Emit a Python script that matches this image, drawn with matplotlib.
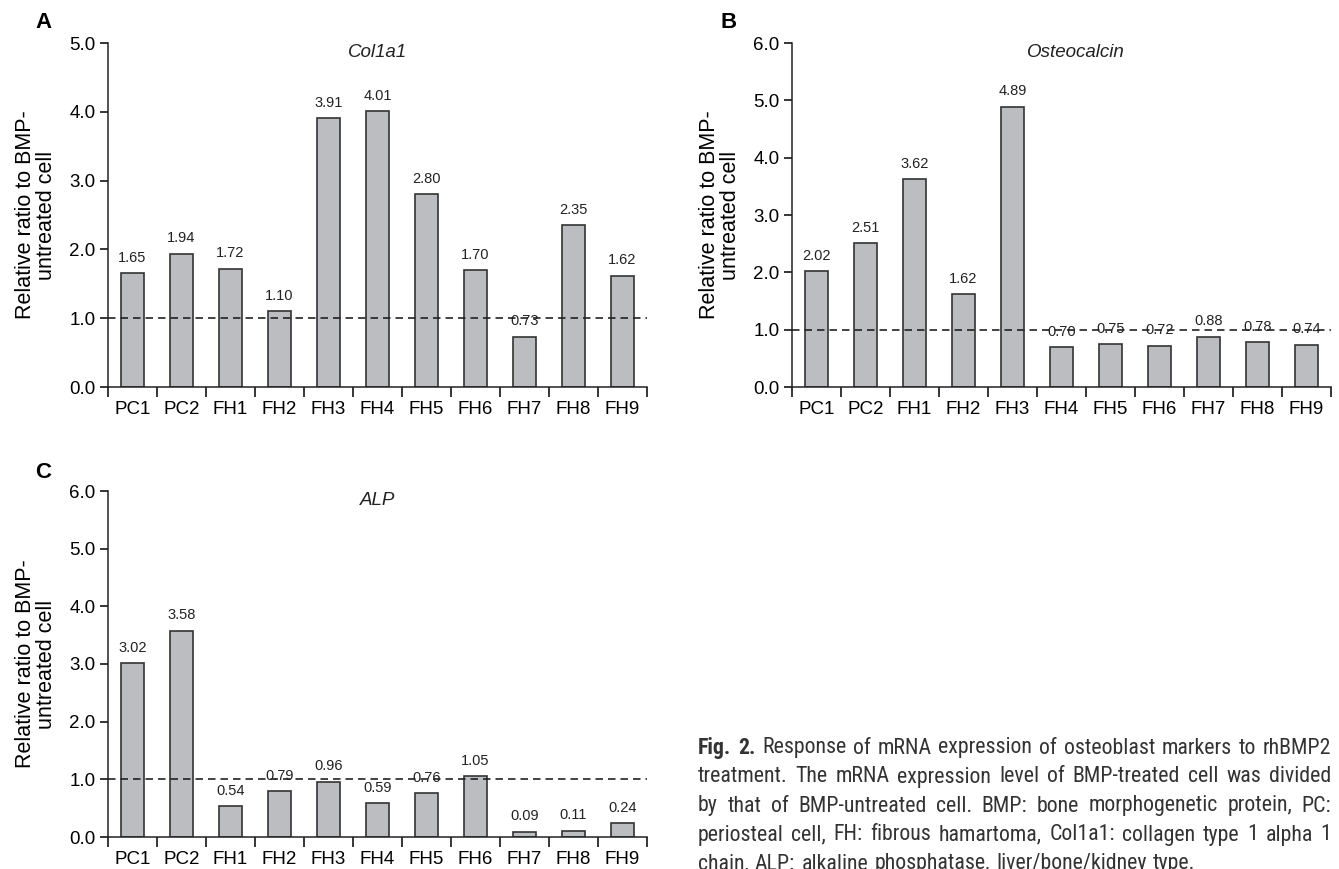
import matplotlib
matplotlib.use("Agg")
import matplotlib.pyplot as plt
from matplotlib import font_manager as fm

names = {f.name for f in fm.fontManager.ttflist}
def pick(*cands):
    for c in cands:
        if c in names:
            return c
    return "DejaVu Sans"
CHART_FONT = pick("Liberation Sans", "Arial")
CAP_FONT = pick("Roboto Condensed", "Liberation Sans Narrow", "Roboto", "Liberation Sans")
plt.rcParams['font.family'] = [CHART_FONT, 'DejaVu Sans']

categories = ["PC1", "PC2", "FH1", "FH2", "FH3", "FH4", "FH5", "FH6", "FH7", "FH8", "FH9"]
col1a1 = [1.65, 1.94, 1.72, 1.10, 3.91, 4.01, 2.80, 1.70, 0.73, 2.35, 1.62]
osteocalcin = [2.02, 2.51, 3.62, 1.62, 4.89, 0.70, 0.75, 0.72, 0.88, 0.78, 0.74]
alp = [3.02, 3.58, 0.54, 0.79, 0.96, 0.59, 0.76, 1.05, 0.09, 0.11, 0.24]

W, H = 1339, 869
fig = plt.figure(figsize=(W / 100, H / 100), dpi=100)

def rect(l, r, t, b):
    return [l / W, 1 - b / H, (r - l) / W, (b - t) / H]

BAR = "#bcbdc1"
EDGE = "#333333"

def panel(pos, values, ymax, title, title_x, letter, letter_xy):
    ax = fig.add_axes(pos)
    x = list(range(len(categories)))
    ax.bar(x, values, width=0.47, color=BAR, edgecolor=EDGE, linewidth=1.2, zorder=2)
    ax.axhline(1.0, color="#222222", linestyle=(0, (4.5, 3)), linewidth=1.2, zorder=3)
    for xi, v in zip(x, values):
        ax.annotate(f"{v:.2f}", (xi, v), xytext=(0, 6), textcoords="offset points",
                    ha="center", va="bottom", fontsize=10.5, color="#222222")
    ax.set_xlim(-0.5, len(categories) - 0.5)
    ax.set_ylim(0, ymax)
    ax.set_yticks([i * 1.0 for i in range(int(ymax) + 1)])
    ax.set_yticklabels([f"{i:.1f}" for i in range(int(ymax) + 1)], fontsize=13.5)
    ax.set_xticks(x)
    ax.set_xticklabels(categories, fontsize=13.5)
    ax.set_xticks([i - 0.5 for i in range(len(categories) + 1)], minor=True)
    ax.tick_params(axis="x", which="major", length=0, pad=10)
    ax.tick_params(axis="x", which="minor", length=7, width=1.1, direction="out")
    ax.tick_params(axis="y", length=6, width=1.1, direction="out", pad=3)
    for s in ("top", "right"):
        ax.spines[s].set_visible(False)
    for s in ("left", "bottom"):
        ax.spines[s].set_linewidth(1.1)
        ax.spines[s].set_color("#222222")
    ax.set_ylabel("Relative ratio to BMP-\nuntreated cell", fontsize=15.5, labelpad=9,
                  linespacing=1.0)
    ax.text(title_x, 0.972, title, transform=ax.transAxes, ha="center", va="center",
            fontsize=13.5, style="italic", color="#222222")
    fig.text(letter_xy[0] / W, 1 - letter_xy[1] / H, letter, fontsize=16,
             fontweight="bold", ha="left", va="center")
    return ax

panel(rect(108, 647, 43, 387), col1a1, 5.0, "Col1a1", 0.5, "A", (35, 22))
panel(rect(792, 1331, 43, 387), osteocalcin, 6.0, "Osteocalcin", 0.527, "B", (721, 23))
panel(rect(108, 647, 491, 837), alp, 6.0, "ALP", 0.5, "C", (35, 473))

caption_lines = [
    "Fig. 2. Response of mRNA expression of osteoblast markers to rhBMP2",
    "treatment. The mRNA expression level of BMP-treated cell was divided",
    "by that of BMP-untreated cell. BMP: bone morphogenetic protein, PC:",
    "periosteal cell, FH: fibrous hamartoma, Col1a1: collagen type 1 alpha 1",
    "chain, ALP: alkaline phosphatase, liver/bone/kidney type.",
]
ys = [748, 777, 806, 835, 864]
X0, X1 = 698, 1331

renderer = fig.canvas.get_renderer()

def width_of(word, size, bold):
    t = fig.text(0, 0, word, fontsize=size, family=CAP_FONT,
                 fontweight="bold" if bold else "normal")
    w = t.get_window_extent(renderer).width
    t.remove()
    return w

size = 17.0
while size > 8:
    widest = 0
    for i, line in enumerate(caption_lines):
        words = line.split(" ")
        ws = sum(width_of(w, size, i == 0 and k < 2) for k, w in enumerate(words))
        ws += width_of("a", size, False) * 0.6 * (len(words) - 1)
        widest = max(widest, ws)
    if widest <= X1 - X0:
        break
    size -= 0.25

for i, (line, y) in enumerate(zip(caption_lines, ys)):
    words = line.split(" ")
    bolds = [i == 0 and k < 2 for k in range(len(words))]
    widths = [width_of(w, size, b) for w, b in zip(words, bolds)]
    last = i == len(caption_lines) - 1
    if last:
        gap = width_of("a", size, False) * 0.6
    else:
        gap = (X1 - X0 - sum(widths)) / (len(words) - 1)
    x = X0
    for w, b, wd in zip(words, bolds, widths):
        fig.text(x / W, 1 - y / H, w, fontsize=size, family=CAP_FONT,
                 fontweight="bold" if b else "normal", ha="left", va="center",
                 color="#333333")
        x += wd + gap

fig.savefig("out.png", dpi=100)
